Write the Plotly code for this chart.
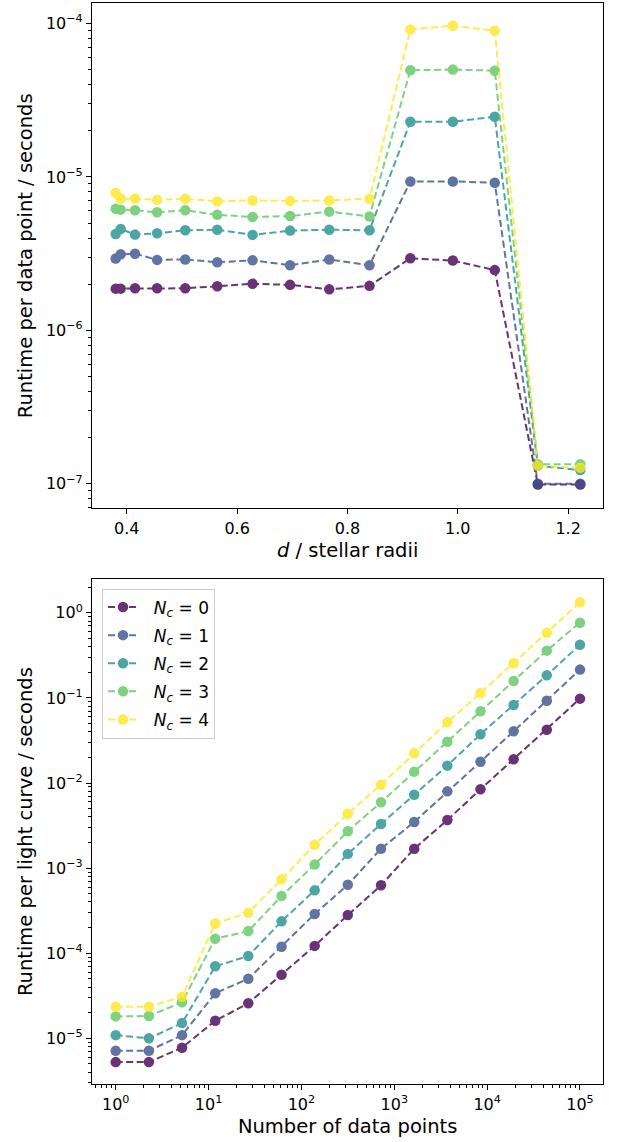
import plotly.graph_objects as go

# ---------------- data ----------------
d_values = [0.380, 0.389, 0.415, 0.455, 0.506, 0.564, 0.628, 0.696, 0.767, 0.840,
            0.914, 0.991, 1.067, 1.145, 1.222]

runtime_point_nc0 = [1.87e-6, 1.87e-6, 1.88e-6, 1.88e-6, 1.88e-6, 1.94e-6, 2.01e-6, 1.98e-6,
                     1.85e-6, 1.95e-6, 2.95e-6, 2.85e-6, 2.47e-6, 0.99e-7, 0.99e-7]
runtime_point_nc1 = [2.94e-6, 3.13e-6, 3.16e-6, 2.88e-6, 2.90e-6, 2.78e-6, 2.86e-6, 2.66e-6,
                     2.90e-6, 2.66e-6, 9.35e-6, 9.35e-6, 9.16e-6, 1.00e-7, 1.00e-7]
runtime_point_nc2 = [4.25e-6, 4.58e-6, 4.21e-6, 4.29e-6, 4.49e-6, 4.53e-6, 4.19e-6, 4.47e-6,
                     4.53e-6, 4.49e-6, 2.29e-5, 2.29e-5, 2.47e-5, 1.31e-7, 1.23e-7]
runtime_point_nc3 = [6.21e-6, 6.12e-6, 6.06e-6, 5.88e-6, 6.06e-6, 5.67e-6, 5.48e-6, 5.56e-6,
                     5.94e-6, 5.53e-6, 4.96e-5, 5.01e-5, 4.93e-5, 1.34e-7, 1.34e-7]
runtime_point_nc4 = [7.85e-6, 7.21e-6, 7.21e-6, 7.11e-6, 7.21e-6, 6.93e-6, 7.03e-6, 6.97e-6,
                     7.03e-6, 7.21e-6, 9.16e-5, 9.68e-5, 8.98e-5, 1.31e-7, 1.27e-7]

n_points = [1, 2.28, 5.18, 11.8, 26.8, 61.1, 139, 316, 720, 1640, 3730, 8480, 19300, 43900, 100000]

runtime_curve_nc0 = [5.26e-6, 5.26e-6, 7.76e-6, 1.61e-5, 2.58e-5, 5.59e-5, 1.22e-4, 2.81e-4,
                     6.28e-4, 1.69e-3, 3.67e-3, 8.43e-3, 1.90e-2, 4.23e-2, 9.80e-2]
runtime_curve_nc1 = [7.15e-6, 7.15e-6, 1.09e-5, 3.38e-5, 5.02e-5, 1.19e-4, 2.89e-4, 6.38e-4,
                     1.69e-3, 3.48e-3, 7.98e-3, 1.78e-2, 4.05e-2, 9.27e-2, 0.215]
runtime_curve_nc2 = [1.09e-5, 1.00e-5, 1.51e-5, 7.02e-5, 9.27e-5, 2.37e-4, 5.48e-4, 1.47e-3,
                     3.30e-3, 7.29e-3, 1.60e-2, 3.74e-2, 8.26e-2, 0.184, 0.422]
runtime_curve_nc3 = [1.81e-5, 1.83e-5, 2.65e-5, 1.48e-4, 1.82e-4, 4.70e-4, 1.10e-3, 2.71e-3,
                     5.93e-3, 1.36e-2, 3.06e-2, 6.95e-2, 0.158, 0.359, 0.765]
runtime_curve_nc4 = [2.35e-5, 2.35e-5, 3.08e-5, 2.24e-4, 2.99e-4, 7.38e-4, 1.88e-3, 4.35e-3,
                     9.55e-3, 2.23e-2, 5.16e-2, 0.114, 0.255, 0.584, 1.33]

series_names = ["<i>N</i><sub><i>c</i></sub> = 0", "<i>N</i><sub><i>c</i></sub> = 1",
                "<i>N</i><sub><i>c</i></sub> = 2", "<i>N</i><sub><i>c</i></sub> = 3",
                "<i>N</i><sub><i>c</i></sub> = 4"]
colors = ["#440154", "#3b528b", "#21918c", "#5ec962", "#fde725"]

top_x_tickvals = [0.4, 0.6, 0.8, 1.0, 1.2]
top_x_ticktext = ["0.4", "0.6", "0.8", "1.0", "1.2"]
top_y_tickvals = [1e-7, 1e-6, 1e-5, 1e-4]
top_y_ticktext = ["10<sup>\u22127</sup>", "10<sup>\u22126</sup>", "10<sup>\u22125</sup>", "10<sup>\u22124</sup>"]
bot_x_tickvals = [1, 10, 100, 1000, 10000, 100000]
bot_x_ticktext = ["10<sup>0</sup>", "10<sup>1</sup>", "10<sup>2</sup>", "10<sup>3</sup>",
                  "10<sup>4</sup>", "10<sup>5</sup>"]
bot_y_tickvals = [1e-5, 1e-4, 1e-3, 1e-2, 1e-1, 1]
bot_y_ticktext = ["10<sup>\u22125</sup>", "10<sup>\u22124</sup>", "10<sup>\u22123</sup>",
                  "10<sup>\u22122</sup>", "10<sup>\u22121</sup>", "10<sup>0</sup>"]

top_series = [runtime_point_nc0, runtime_point_nc1, runtime_point_nc2, runtime_point_nc3, runtime_point_nc4]
bot_series = [runtime_curve_nc0, runtime_curve_nc1, runtime_curve_nc2, runtime_curve_nc3, runtime_curve_nc4]

# ---------------- figure ----------------
W, H = 633, 1142
fig = go.Figure()

for name, col, ys in zip(series_names, colors, top_series):
    fig.add_trace(go.Scatter(
        x=d_values, y=ys, mode="lines+markers", name=name, showlegend=False,
        xaxis="x", yaxis="y", opacity=0.8,
        line=dict(color=col, width=2, dash="7px,3.5px"),
        marker=dict(color=col, size=10.5),
    ))

for i, (name, col, ys) in enumerate(zip(series_names, colors, bot_series)):
    fig.add_trace(go.Scatter(
        x=n_points, y=ys, mode="lines+markers", name="&nbsp;&nbsp;" + name, showlegend=True,
        legendgroup="g%d" % i,
        xaxis="x2", yaxis="y2", opacity=0.8,
        line=dict(color=col, width=2, dash="7px,3.5px"),
        marker=dict(color=col, size=10.5),
    ))

FONT = "DejaVu Sans"
tickfont = dict(family=FONT, size=16, color="black")
titlefont = dict(family=FONT, size=19.5, color="black")

common = dict(showline=True, mirror=True, linecolor="black", linewidth=1.1,
              ticks="outside", ticklen=5, tickwidth=1.1, tickcolor="black",
              showgrid=False, zeroline=False, tickfont=tickfont, tickmode="array",
              automargin=False)
minor_log = dict(ticks="outside", ticklen=3, tickwidth=0.8, tickcolor="black",
                 dtick="D1", showgrid=False)

x_dom = [92 / W, 603.3 / W]
fig.update_layout(
    width=W, height=H,
    margin=dict(l=0, r=0, t=0, b=0),
    paper_bgcolor="white", plot_bgcolor="white",
    font=dict(family=FONT, color="black"),
    xaxis=dict(domain=x_dom, anchor="y", range=[0.337, 1.2637],
               tickvals=top_x_tickvals, ticktext=top_x_ticktext,
               title=dict(text="<i>d</i> / stellar radii", font=titlefont, standoff=6),
               **common),
    yaxis=dict(domain=[1 - 508.3 / H, 1 - 3.3 / H], anchor="x", type="log",
               range=[-7.160, -3.868],
               tickvals=top_y_tickvals, ticktext=top_y_ticktext, minor=minor_log,
               title=dict(text="Runtime per data point / seconds", font=titlefont, standoff=8),
               **common),
    xaxis2=dict(domain=x_dom, anchor="y2", type="log", range=[-0.255, 5.251],
                tickvals=bot_x_tickvals, ticktext=bot_x_ticktext, minor=minor_log,
                title=dict(text="Number of data points", font=titlefont, standoff=6),
                **common),
    yaxis2=dict(domain=[1 - 1084.3 / H, 1 - 579 / H], anchor="x2", type="log",
                range=[-5.54, 0.397],
                tickvals=bot_y_tickvals, ticktext=bot_y_ticktext, minor=minor_log,
                title=dict(text="Runtime per light curve / seconds", font=titlefont, standoff=8),
                **common),
    legend=dict(x=102 / W, y=1 - 588.5 / H, xanchor="left", yanchor="top",
                bgcolor="rgba(255,255,255,0.8)", bordercolor="#cccccc", borderwidth=1,
                font=dict(family=FONT, size=17, color="black"), tracegroupgap=3),
)

fig.write_html("out.html", config={"displayModeBar": False},
               post_script="document.body.style.margin='0px';document.body.style.overflow='hidden';")
